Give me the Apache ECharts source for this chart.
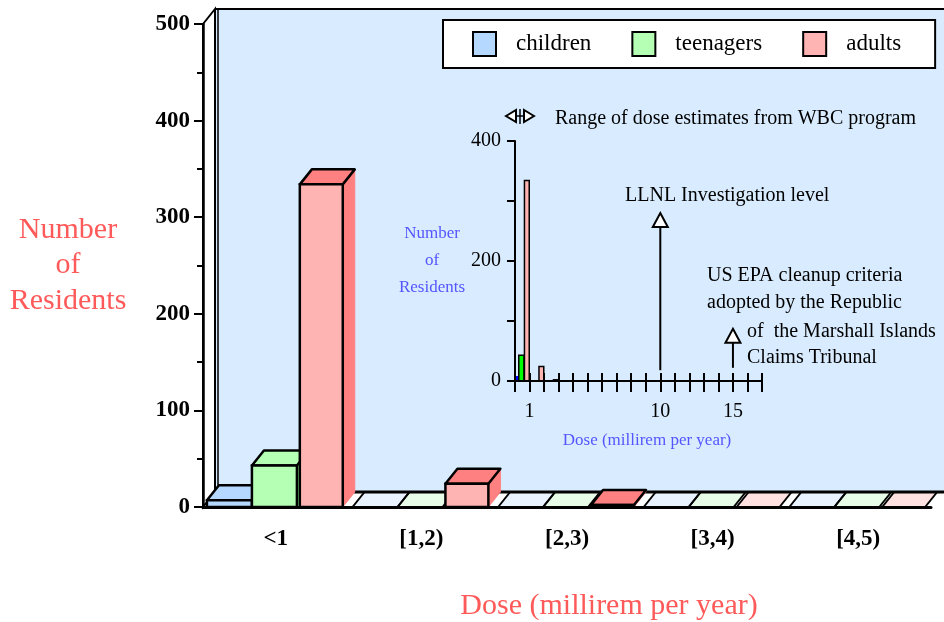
<!DOCTYPE html>
<html><head><meta charset="utf-8">
<script src="https://cdn.jsdelivr.net/npm/echarts@6/dist/echarts.min.js"></script>
<style>html,body{margin:0;padding:0;background:#fff}#c{width:944px;height:622px}</style>
</head><body><div id="c"></div>
<script>
// ---- data ----
const categories = ['<1', '[1,2)', '[2,3)', '[3,4)', '[4,5)'];
const children = [7, 0, 0, 0, 0];
const teenagers = [43, 0, 0, 0, 0];
const adults = [334, 24, 2, 0, 0];
const seriesNames = ['children', 'teenagers', 'adults'];
const yMax = 500, yStep = 100;
const insetYMax = 400, insetYStep = 100, insetXMax = 17;
const insetXLabels = [1, 10, 15];
const insetYLabels = [0, 200, 400];
const refLevels = [10, 15];          // LLNL investigation level, US EPA criteria
const arrowSpan = [[18, 280], [22, 87]]; // arrow extent (inset y units) for the annotations

// ---- styling ----
const SERIF = "'Liberation Serif','Times New Roman',Times,serif";
const TITLE_RED = '#ff5a5a';
const INSET_BLUE = '#5555ff';
const DX = 12, DY = 15;
const faceStyle = [
  {front: '#b4d8ff', top: '#b4d8ff', side: '#8ec4ff', floor: '#e9f2ff'},
  {front: '#b4ffb4', top: '#b4ffb4', side: '#86f086', floor: '#e8fde8'},
  {front: '#ffb4b4', top: '#ff8080', side: '#ff8080', floor: '#ffe1e1'}
];
const slot = [[0.027, 0.309], [0.336, 0.309], [0.665, 0.295]];
const insetSlot = [[0.07, 0.21], [0.26, 0.62], [0.65, 0.98]];
const insetStyle = [
  {fill: '#0000ff', stroke: '#0000ff'},
  {fill: '#00ff00', stroke: '#000'},
  {fill: '#ffb4b4', stroke: '#000'}
];

function mainBar(k) {
  return function (params, api) {
    const i = api.value(0), v = api.value(1);
    const band = api.size([1, 0])[0];
    const base = api.coord([i, 0]);
    const left = base[0] - band / 2;
    const x0 = left + band * slot[k][0], w = band * slot[k][1];
    const y0 = base[1];
    const st = faceStyle[k];
    if (v === 0) {
      return {type: 'group', children: [
        {type: 'polygon', z2: 1, shape: {points: [[x0, y0], [x0 + w, y0], [x0 + w + DX, y0 - DY], [x0 + DX, y0 - DY]]}, style: {fill: st.floor}},
        {type: 'line', z2: 2, shape: {x1: x0, y1: y0, x2: x0 + DX, y2: y0 - DY}, style: {stroke: '#000', lineWidth: 2}},
        {type: 'line', z2: 2, shape: {x1: x0 + w, y1: y0, x2: x0 + w + DX, y2: y0 - DY}, style: {stroke: '#000', lineWidth: 2}}
      ]};
    }
    const yT = api.coord([i, v])[1];
    const o = (10 + i * 3 + k) * 3;
    return {type: 'group', children: [
      {type: 'polygon', z2: o, shape: {points: [[x0 + w, yT], [x0 + w + DX, yT - DY], [x0 + w + DX, y0 - DY], [x0 + w, y0]]}, style: {fill: st.side, stroke: st.side, lineWidth: 1}},
      {type: 'polygon', z2: o + 1, shape: {points: [[x0, yT], [x0 + w, yT], [x0 + w + DX, yT - DY], [x0 + DX, yT - DY]]}, style: {fill: st.top, stroke: '#000', lineWidth: 2.5, lineJoin: 'round'}},
      {type: 'rect', z2: o + 2, shape: {x: x0, y: yT, width: w, height: y0 - yT}, style: {fill: st.front, stroke: '#000', lineWidth: 2.5}}
    ]};
  };
}

function wallItem(params, api) {
  const band = api.size([1, 0])[0];
  const p0 = api.coord([0, 0]);
  const pT = api.coord([0, yMax]);
  const x0 = p0[0] - band / 2, y0 = p0[1], yT = pT[1];
  const W = api.getWidth();
  return {type: 'group', children: [
    {type: 'rect', z2: 0, shape: {x: x0 + DX, y: yT - DY, width: W - x0 - DX, height: y0 - yT}, style: {fill: '#d9ecff'}},
    {type: 'polygon', z2: 0, shape: {points: [[x0, yT], [x0 + DX, yT - DY], [x0 + DX, y0 - DY], [x0, y0]]}, style: {fill: '#fff', stroke: '#000', lineWidth: 2}},
    {type: 'line', z2: 0, shape: {x1: x0 + DX + 3, y1: yT - DY, x2: x0 + DX + 3, y2: y0 - DY}, style: {stroke: '#000', lineWidth: 1.5}},
    {type: 'line', z2: 0, shape: {x1: x0 + DX, y1: yT - DY, x2: W, y2: yT - DY}, style: {stroke: '#000', lineWidth: 2}},
    {type: 'line', z2: 3, shape: {x1: x0 + DX, y1: y0 - DY, x2: W, y2: y0 - DY}, style: {stroke: '#000', lineWidth: 3}}
  ]};
}

function insetBar(k) {
  return function (params, api) {
    const b = api.value(0), v = api.value(1);
    if (!v) return null;
    const p1 = api.coord([b + insetSlot[k][0], v]);
    const p2 = api.coord([b + insetSlot[k][1], 0]);
    return {type: 'rect', shape: {x: p1[0], y: p1[1], width: p2[0] - p1[0], height: p2[1] - p1[1]},
      style: {fill: insetStyle[k].fill, stroke: insetStyle[k].stroke, lineWidth: 1.5}};
  };
}

function arrowItem(params, api) {
  const x = api.value(0), idx = params.dataIndex;
  const pB = api.coord([x, arrowSpan[idx][0]]);
  const pT = api.coord([x, arrowSpan[idx][1]]);
  const H = 14, HW = 7.5;
  return {type: 'group', children: [
    {type: 'line', shape: {x1: pB[0], y1: pB[1], x2: pT[0], y2: pT[1] + H}, style: {stroke: '#000', lineWidth: 2}},
    {type: 'polygon', shape: {points: [[pT[0], pT[1]], [pT[0] + HW, pT[1] + H], [pT[0] - HW, pT[1] + H]]}, style: {fill: '#fff', stroke: '#000', lineWidth: 2}}
  ]};
}

const series = [
  {name: 'wall', type: 'custom', xAxisIndex: 0, yAxisIndex: 0, renderItem: wallItem, data: [[0, 0]], silent: true, legendHoverLink: false}
];
[children, teenagers, adults].forEach((arr, k) => {
  series.push({name: seriesNames[k], type: 'custom', xAxisIndex: 0, yAxisIndex: 0,
    itemStyle: {color: faceStyle[k].front}, renderItem: mainBar(k),
    data: arr.map((v, i) => [i, v]), encode: {x: 0, y: 1}});
});
[children, teenagers, adults].forEach((arr, k) => {
  series.push({name: seriesNames[k] + ' (inset)', type: 'custom', xAxisIndex: 1, yAxisIndex: 1, z: 10,
    renderItem: insetBar(k), data: arr.map((v, i) => [i, v]), encode: {x: 0, y: 1}});
});
series.push({name: 'levels', type: 'custom', xAxisIndex: 1, yAxisIndex: 1, z: 10, renderItem: arrowItem,
  data: refLevels.map(x => [x, 0]), encode: {x: 0, y: 1}});

function txt(t, x, y) {
  return {type: 'text', z: 20, x: x, y: y, style: {text: t, font: '20px ' + SERIF, fill: '#000', verticalAlign: 'middle'}};
}

const chart = echarts.init(document.getElementById('c'), null, {renderer: 'canvas'});
chart.setOption({
  animation: false,
  backgroundColor: '#fff',
  grid: [
    {left: 203, right: 13, top: 24, bottom: 115, outerBoundsMode: 'none'},
    {left: 515, right: 182, top: 141, bottom: 241, outerBoundsMode: 'none'}
  ],
  legend: {
    data: seriesNames.map(n => ({name: n, itemStyle: {borderColor: '#000', borderWidth: 2}})),
    left: 443, top: 20, orient: 'horizontal', z: 20,
    backgroundColor: '#fff', borderColor: '#000', borderWidth: 2,
    padding: [11, 34, 11, 29], itemGap: 40, itemWidth: 23, itemHeight: 24, icon: 'rect',
    textStyle: {fontFamily: SERIF, fontSize: 23, color: '#000', padding: [0, 0, 0, 15]},
    selectedMode: false
  },
  xAxis: [
    {type: 'category', gridIndex: 0, data: categories, z: 5,
      axisLine: {lineStyle: {color: '#000', width: 3}},
      axisTick: {length: 10, lineStyle: {color: '#000', width: 2}, interval: 0},
      axisLabel: {interval: 0, fontFamily: SERIF, fontWeight: 'bold', fontSize: 23, color: '#000', margin: 21},
      name: 'Dose (millirem per year)', nameLocation: 'middle', nameGap: 99,
      nameTextStyle: {fontFamily: SERIF, fontSize: 30, color: TITLE_RED, align: 'center', verticalAlign: 'middle', padding: [0, 0, 0, 84]}
    },
    {type: 'value', gridIndex: 1, min: 0, max: insetXMax, interval: 1, z: 10, position: 'bottom',
      axisLine: {lineStyle: {color: '#000', width: 2}},
      axisTick: {length: 11, lineStyle: {color: '#000', width: 2}},
      splitLine: {show: false},
      axisLabel: {fontFamily: SERIF, fontSize: 20, color: '#000', margin: 21,
        formatter: v => insetXLabels.indexOf(v) >= 0 ? String(v) : ''},
      name: 'Dose (millirem per year)', nameLocation: 'middle', nameGap: 60,
      nameTextStyle: {fontFamily: SERIF, fontSize: 17, color: INSET_BLUE, align: 'center', verticalAlign: 'middle', padding: [0, 0, 0, 17]}
    },
    {type: 'value', gridIndex: 1, min: 0, max: insetXMax, interval: 1, z: 10, position: 'bottom',
      axisLine: {show: false},
      axisTick: {inside: true, length: 8, lineStyle: {color: '#000', width: 2}},
      splitLine: {show: false}, axisLabel: {show: false}
    }
  ],
  yAxis: [
    {type: 'value', gridIndex: 0, min: 0, max: yMax, interval: yStep, z: 5,
      axisLine: {show: true, lineStyle: {color: '#000', width: 2.5}},
      axisTick: {show: true, length: 9, lineStyle: {color: '#000', width: 2}},
      minorTick: {show: true, splitNumber: 2, length: 6, lineStyle: {color: '#000', width: 2}},
      splitLine: {show: false},
      axisLabel: {fontFamily: SERIF, fontWeight: 'bold', fontSize: 23, color: '#000', margin: 13},
      name: 'Number\nof\nResidents', nameLocation: 'middle', nameGap: 135, nameRotate: 0,
      nameTextStyle: {fontFamily: SERIF, fontSize: 30, lineHeight: 35.5, color: TITLE_RED, align: 'center', verticalAlign: 'middle'}
    },
    {type: 'value', gridIndex: 1, min: 0, max: insetYMax, interval: insetYStep, z: 10,
      axisLine: {show: true, lineStyle: {color: '#000', width: 2}},
      axisTick: {show: true, length: 8, lineStyle: {color: '#000', width: 2}},
      splitLine: {show: false},
      axisLabel: {fontFamily: SERIF, fontSize: 20, color: '#000', margin: 14,
        formatter: v => insetYLabels.indexOf(v) >= 0 ? String(v) : ''},
      name: 'Number\nof\nResidents', nameLocation: 'middle', nameGap: 83, nameRotate: 0,
      nameTextStyle: {fontFamily: SERIF, fontSize: 17, lineHeight: 27, color: INSET_BLUE, align: 'center', verticalAlign: 'middle', padding: [12, 0, 0, 0]}
    }
  ],
  graphic: [
    {type: 'polygon', z: 20, shape: {points: [[506, 116], [516, 110], [516, 122]]}, style: {fill: '#fff', stroke: '#000', lineWidth: 2, lineJoin: 'miter'}},
    {type: 'polygon', z: 20, shape: {points: [[534, 116], [524, 110], [524, 122]]}, style: {fill: '#fff', stroke: '#000', lineWidth: 2, lineJoin: 'miter'}},
    {type: 'line', z: 20, shape: {x1: 520, y1: 109, x2: 520, y2: 124}, style: {stroke: '#000', lineWidth: 1.5}},
    {type: 'line', z: 20, shape: {x1: 516, y1: 116, x2: 524, y2: 116}, style: {stroke: '#000', lineWidth: 1.5}},
    txt('Range of dose estimates from WBC program', 555, 119),
    txt('LLNL Investigation level', 625, 196),
    txt('US EPA cleanup criteria', 707, 276),
    txt('adopted by the Republic', 707, 303),
    txt('of  the Marshall Islands', 747, 332),
    txt('Claims Tribunal', 747, 358)
  ],
  series: series
});
</script>
</body></html>
